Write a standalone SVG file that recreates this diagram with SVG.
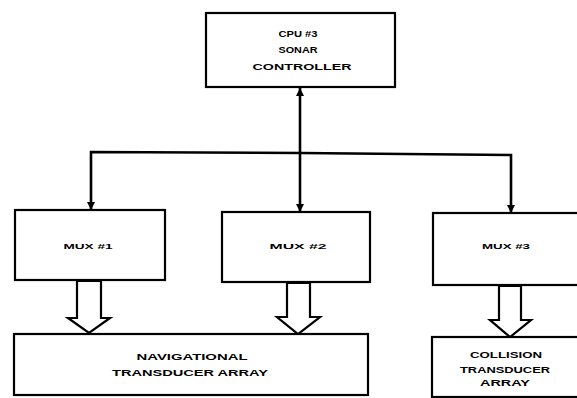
<svg xmlns="http://www.w3.org/2000/svg" width="577" height="398" viewBox="0 0 577 398">
<defs>
<marker id="ah" markerWidth="8" markerHeight="8" refX="8" refY="4" orient="auto" markerUnits="userSpaceOnUse">
<path d="M0,0 L8,4 L0,8 Z" fill="#000"/>
</marker>
<style>
.box{fill:#fff;stroke:#000;stroke-width:2.2}
.ln{fill:none;stroke:#000;stroke-width:2.6}
.hol{fill:#fff;stroke:#000;stroke-width:2.2;stroke-linejoin:miter}
text{font-family:"Liberation Sans",Arial,sans-serif;font-weight:bold;fill:#000;text-anchor:middle}
.s{font-size:8px}
.m{font-size:9px}
</style>
</defs>
<rect width="577" height="398" fill="#fff"/>
<g id="connectors">
<line class="ln" x1="300" y1="153" x2="300" y2="88" marker-end="url(#ah)"/>
<polyline class="ln" points="300,153 91,152 91,210" marker-end="url(#ah)"/>
<line class="ln" x1="300" y1="153" x2="300" y2="212" marker-end="url(#ah)"/>
<polyline class="ln" points="300,153 511,155 511,213" marker-end="url(#ah)"/>
<polygon class="hol" points="77,281 101,281 101,318 110,318 89,333 68,318 77,318"/>
<polygon class="hol" points="287,283 310,283 310,317 320,317 298,334 277,317 287,317"/>
<polygon class="hol" points="499,286 521,286 521,320 531,320 510,337 490,320 499,320"/>
</g>
<g id="cpu">
<rect class="box" x="206" y="13" width="189" height="74"/>
<text class="m" x="298" y="37" textLength="39" lengthAdjust="spacingAndGlyphs">CPU #3</text>
<text class="m" x="298" y="53" textLength="39" lengthAdjust="spacingAndGlyphs">SONAR</text>
<text class="m" x="302" y="70" textLength="99" lengthAdjust="spacingAndGlyphs">CONTROLLER</text>
</g>
<g id="mux1">
<rect class="box" x="15" y="210" width="150" height="70"/>
<text class="s" x="88" y="249" textLength="49" lengthAdjust="spacingAndGlyphs">MUX #1</text>
</g>
<g id="mux2">
<rect class="box" x="222" y="212" width="148" height="70"/>
<text class="s" x="298" y="249" textLength="57" lengthAdjust="spacingAndGlyphs">MUX #2</text>
</g>
<g id="mux3">
<rect class="box" x="433" y="213" width="150" height="72"/>
<text class="s" x="506" y="249" textLength="48" lengthAdjust="spacingAndGlyphs">MUX #3</text>
</g>
<g id="nav">
<rect class="box" x="14" y="334" width="354" height="61"/>
<text class="m" x="192" y="360" textLength="111" lengthAdjust="spacingAndGlyphs">NAVIGATIONAL</text>
<text class="m" x="190" y="376" textLength="156" lengthAdjust="spacingAndGlyphs">TRANSDUCER ARRAY</text>
</g>
<g id="collision">
<rect class="box" x="432" y="337" width="150" height="60"/>
<text class="m" x="506" y="358" textLength="72" lengthAdjust="spacingAndGlyphs">COLLISION</text>
<text class="m" x="505" y="373" textLength="90" lengthAdjust="spacingAndGlyphs">TRANSDUCER</text>
<text class="m" x="505" y="386" textLength="50" lengthAdjust="spacingAndGlyphs">ARRAY</text>
</g>
</svg>
